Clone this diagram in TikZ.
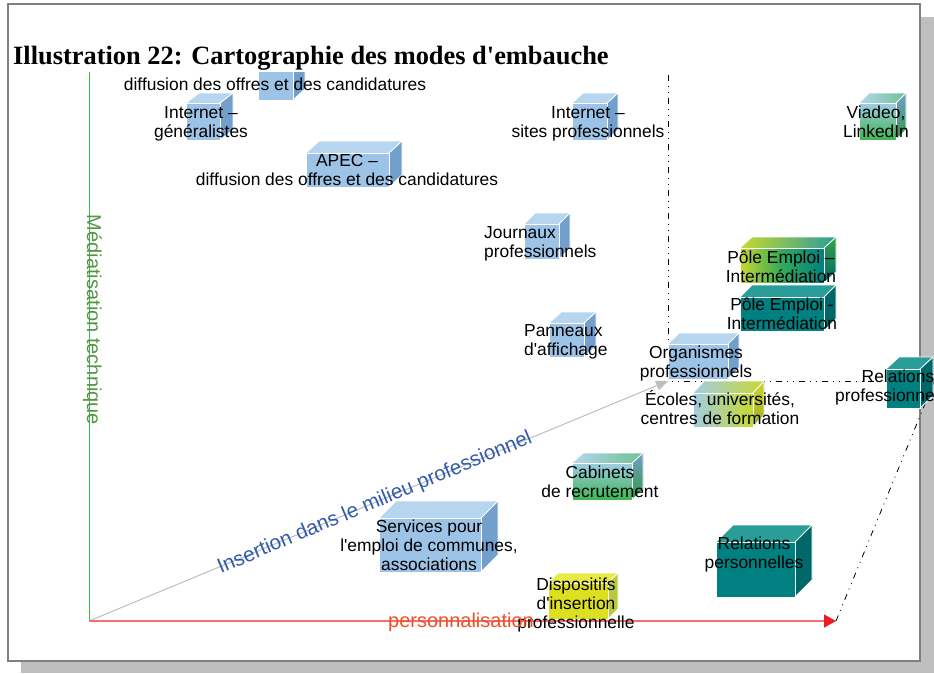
\documentclass[tikz,border=0pt]{standalone}
\usepackage{fontspec}
\setmainfont{Liberation Sans}
\newfontfamily\titlefont{Liberation Serif}
\usetikzlibrary{arrows.meta}
\definecolor{cLBf}{RGB}{157,195,230}
\definecolor{cLBt}{RGB}{182,214,240}
\definecolor{cLBs}{RGB}{114,159,204}
\definecolor{cTLf}{RGB}{0,128,128}
\definecolor{cTLt}{RGB}{42,157,153}
\definecolor{cTLs}{RGB}{0,104,104}
\definecolor{cYLf}{RGB}{221,224,30}
\definecolor{cYLt}{RGB}{232,234,70}
\definecolor{cYLs}{RGB}{185,200,60}
\definecolor{cGreen}{RGB}{60,180,80}
\definecolor{cYG}{RGB}{200,216,48}
\definecolor{cPaleBlue}{RGB}{160,205,228}
\definecolor{cShadow}{RGB}{191,191,191}
\definecolor{cFrame}{RGB}{128,128,128}
\definecolor{cAxG}{RGB}{60,185,70}
\definecolor{cAxR}{RGB}{242,112,112}
\definecolor{cTipR}{RGB}{237,28,36}
\definecolor{cAxD}{RGB}{190,190,190}
\definecolor{cLabG}{RGB}{85,150,70}
\definecolor{cLabR}{RGB}{240,80,40}
\definecolor{cLabB}{RGB}{50,90,170}
\newcommand{\drawcube}[7]{%
  \fill[#7front] (#1,#2) rectangle (#3,#4);
  \fill[#7top] (#1,#2) -- (#1+#5,#2-#6) -- (#3+#5,#2-#6) -- (#3,#2) -- cycle;
  \fill[#7side] (#3,#2) -- (#3+#5,#2-#6) -- (#3+#5,#4-#6) -- (#3,#4) -- cycle;
  \draw[cubeedge] (#1,#2) rectangle (#3,#4);
  \draw[cubeedge] (#1,#2) -- (#1+#5,#2-#6) -- (#3+#5,#2-#6) -- (#3+#5,#4-#6) -- (#3,#4);
  \draw[cubeedge] (#3,#2) -- (#3+#5,#2-#6);
}
\newcommand{\sq}{\textquotesingle}
\begin{document}
\begin{tikzpicture}[x=1pt,y=-1pt,
  cubeedge/.style={draw=white,line width=0.9pt,line join=round},
  lbfront/.style={fill=cLBf}, lbtop/.style={fill=cLBt}, lbside/.style={fill=cLBs},
  tlfront/.style={fill=cTLf}, tltop/.style={fill=cTLt}, tlside/.style={fill=cTLs},
  ylfront/.style={fill=cYLf}, yltop/.style={fill=cYLt}, ylside/.style={fill=cYLs},
  vgfront/.style={top color=cPaleBlue, bottom color=cGreen},
  vgtop/.style={left color=cLBt, right color=cGreen!60!cLBt},
  vgside/.style={top color=cLBs, bottom color=cGreen!85!black},
  pefront/.style={left color=cYG, right color=cTLf, middle color=cGreen!80!cTLf},
  petop/.style={left color=cYG, right color=cTLt},
  peside/.style={top color=cGreen!90!black, bottom color=cTLs},
  ecfront/.style={left color=cPaleBlue, right color=cYG},
  ectop/.style={left color=cPaleBlue, right color=cYG},
  ecside/.style={top color=cYG, bottom color=cYG!80!black},
  lbl/.style={font=\fontsize{17.4}{18.7}\selectfont, align=center, inner sep=0pt, anchor=base, text=black},
  lbll/.style={lbl, align=left, anchor=base west},
  guide/.style={black, line width=0.8pt, dash pattern=on 6pt off 5pt on 1pt off 5pt on 1pt off 5pt},
  axislab/.style={font=\fontsize{20}{22}\selectfont, inner sep=0pt, anchor=base}
]
\useasboundingbox (0,0) rectangle (934,673);
\clip (0,0) rectangle (934,673);
% page frame with shadow
\fill[cShadow] (21,17) rectangle (934,673);
\filldraw[fill=white, draw=cFrame, line width=1.3pt] (8,4) rectangle (920,661);
% coordinates
\coordinate (O) at (89,621);
\coordinate (Ytop) at (89,60);
\coordinate (Xend) at (836,621);
\coordinate (D) at (668,381);
\coordinate (Vtop) at (668,75);
\coordinate (H) at (934,381);
\coordinate (Hfar) at (938,372);
% guide lines
\draw[guide] (Vtop) -- (D) -- (H);
\draw[guide] (Xend) -- (Hfar);
% axes
\draw[cAxG, line width=1pt] (O) -- (Ytop);
\draw[cAxD, line width=1pt, -{Triangle[length=12pt,width=10pt,fill=cAxD]}] (O) -- (D);
\draw[cAxR, line width=1.4pt, -{Triangle[length=12pt,width=13pt,fill=cTipR,color=cTipR]}] (O) -- (Xend);
% cubes
\drawcube{258}{65}{293}{100}{12}{11}{lb}
\drawcube{186}{103}{220}{140}{13}{10}{lb}
\drawcube{306}{153}{389}{187}{13}{12}{lb}
\drawcube{572}{103}{607}{140}{11}{10}{lb}
\drawcube{859}{103}{896}{140}{10}{10}{vg}
\drawcube{524}{224}{559}{259}{11}{11}{lb}
\drawcube{549}{323}{584}{357}{12}{11}{lb}
\drawcube{740}{248}{824}{283}{12}{11}{pe}
\drawcube{740}{297}{824}{331}{12}{12}{tl}
\drawcube{668}{344}{728}{379}{11}{11}{lb}
\drawcube{693}{393}{753}{427}{11}{12}{ec}
\drawcube{886}{369}{920}{408}{13}{12}{tl}
\drawcube{572}{463}{632}{500}{11}{10}{vg}
\drawcube{379}{518}{481}{572}{17}{17}{lb}
\drawcube{548}{583}{608}{619}{10}{10}{yl}
\drawcube{716}{542}{795}{597}{17}{17}{tl}
% title
\node (title) [anchor=base west, fill=white, inner xsep=2pt, inner ysep=0pt, text depth=8pt,
  font=\titlefont\bfseries\fontsize{26.4}{28}\selectfont] at (11,64)
  {Illustration 22: Cartographie des modes d\sq embauche};
% labels (y = baseline of last line)
\node (t0) [lbl] at (275,90) {diffusion des offres et des candidatures};
\node (t1) [lbl] at (201,137.5) {Internet --\\généralistes};
\node (t2) [lbl] at (347,185) {APEC --\\diffusion des offres et des candidatures};
\node (t3) [lbl] at (588,137) {Internet --\\sites professionnels};
\node (t4) [lbl] at (876,137) {Viadeo,\\LinkedIn};
\node (t5) [lbll] at (484,257) {Journaux\\professionnels};
\node (t6) [lbll] at (524,355.5) {Panneaux\\d\sq affichage};
\node (t7) [lbl] at (781,282) {Pôle Emploi --\\Intermédiation};
\node (t8) [lbl] at (782,329.5) {Pôle Emploi -\\Intermédiation};
\node (t9) [lbl] at (696,377.5) {Organismes\\professionnels};
\node (t10) [lbl] at (720,424.5) {Écoles, universités,\\centres de formation};
\node (t11) [lbl] at (898,401) {Relations\\professionnelles};
\node (t12) [lbl] at (600,497.5) {Cabinets\\de recrutement};
\node (t13) [lbl] at (429,570) {Services pour\\l\sq emploi de communes,\\associations};
\node (t14) [lbl] at (576,628) {Dispositifs\\d\sq insertion\\professionnelle};
\node (t15) [lbl] at (754,568) {Relations\\personnelles};
% axis labels
\node (ly) [axislab, text=cLabG, rotate=-90] at (87,320) {Médiatisation technique};
\node (lx) [axislab, text=cLabR] at (461,627) {personnalisation};
\node (ld) [axislab, text=cLabB, rotate=22.8, font=\fontsize{20.6}{22}\selectfont] at (377,508) {Insertion dans le milieu professionnel};
\end{tikzpicture}
\end{document}
